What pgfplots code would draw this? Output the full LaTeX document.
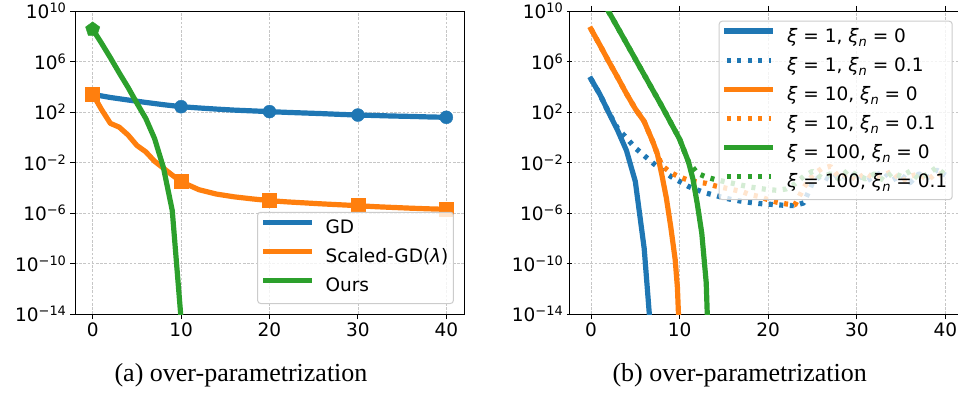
\documentclass[border=0pt]{standalone}
\usepackage{fontspec}
\setmainfont{DejaVu Sans}
\newfontfamily\capfont{Liberation Serif}
\usepackage{pgfplots}
\pgfplotsset{compat=1.18}

\definecolor{tblue}{HTML}{1F77B4}
\definecolor{torange}{HTML}{FF7F0E}
\definecolor{tgreen}{HTML}{2CA02C}

\newcommand{\xii}{\textit{ξ}}
\newcommand{\xin}{\textit{ξ}\raisebox{-0.22em}{\fontsize{13bp}{15bp}\selectfont\textit{n}}}

\tikzset{
  sline/.style={line width=5.2bp, line join=round, line cap=rect},
  dline/.style={line width=5.2bp, line join=round, line cap=butt, dash pattern=on 4bp off 6.5bp},
}
\pgfplotsset{
  legend image code/.code={\draw[#1] (0bp,6.7bp) -- (44bp,6.7bp);},
}
\pgfplotsset{
    scale only axis, width=389bp, height=303bp,
    ymin=1e-14, ymax=1e10,
    ytick={1e-14,1e-10,1e-6,1e-2,1e2,1e6,1e10},
    yticklabels={10\textsuperscript{−14},10\textsuperscript{−10},10\textsuperscript{−6},10\textsuperscript{−2},10\textsuperscript{2},10\textsuperscript{6},10\textsuperscript{10}},
    yminorticks=false,
    xtick={0,10,20,30,40},
    /pgf/number format/assume math mode=true,
    tick align=outside, xtick pos=left, ytick pos=left,
    major tick length=5bp, tick style={black, line width=1bp},
    grid=major, major grid style={gray!45, line width=0.8bp, dash pattern=on 2.6bp off 1.6bp},
    axis line style={black, line width=1bp},
    tick label style={font=\fontsize{18.5bp}{22bp}\selectfont},
    legend cell align=left,
    legend style={font=\fontsize{18.5bp}{22bp}\selectfont, draw=black!20, line width=1bp,
      rounded corners=3bp, fill=white, fill opacity=0.8, text opacity=1, draw opacity=1,
      inner xsep=5bp, inner ysep=7.3bp, row sep=10.5bp, column sep=13.7bp,
      nodes={inner sep=0bp, text height=14bp, text depth=4.5bp}},
}

\begin{document}
\begin{tikzpicture}
\path[use as bounding box] (0bp,0bp) rectangle (958bp,394bp);

% ---------------- (a) ----------------
\begin{axis}[ymode=log, at={(75bp,80bp)}, anchor=south west,
  xmin=-2, xmax=42, ymin=1e-14, ymax=1e10,
  legend style={at={(0.974,0.033)}, anchor=south east}]
\addplot[sline, color=tblue] coordinates {(0,2.51e3)(2,1.41e3)(4,8.91e2)(6,5.75e2)(8,3.80e2)(10,2.63e2)(12,2.09e2)(14,1.70e2)(16,1.41e2)(18,1.23e2)(20,1.07e2)(22,9.33e1)(24,8.32e1)(26,7.41e1)(28,6.46e1)(30,5.75e1)(32,5.25e1)(34,4.79e1)(36,4.47e1)(38,4.07e1)(40,3.80e1)};
\addlegendentry{GD}
\addplot[only marks, mark=*, mark size=6.5bp, color=tblue, line width=0.4bp, forget plot] coordinates {(0,2.51e3)(10,2.63e2)(20,1.07e2)(30,5.75e1)(40,3.80e1)};
\addplot[sline, color=torange] coordinates {(0,2.63e3)(1,1.58e2)(2,1.26e1)(3,6.31)(4,1.51)(5,2.24e-1)(6,7.08e-2)(7,1.26e-2)(8,3.55e-3)(9,1.00e-3)(10,3.02e-4)(12,7.08e-5)(14,3.16e-5)(16,1.91e-5)(18,1.32e-5)(20,9.55e-6)(22,7.59e-6)(24,6.31e-6)(26,5.25e-6)(28,4.47e-6)(30,3.80e-6)(32,3.16e-6)(34,2.75e-6)(36,2.40e-6)(38,2.14e-6)(40,1.95e-6)};
\addlegendentry{Scaled-GD(\textit{λ})}
\addplot[only marks, mark=square*, mark size=7bp, color=torange, line width=0.4bp, forget plot] coordinates {(0,2.63e3)(10,3.02e-4)(20,9.55e-6)(30,3.80e-6)(40,1.95e-6)};
\addplot[sline, color=tgreen] coordinates {(0,3.55e8)(1,2.82e7)(2,2.00e6)(3,1.26e5)(4,8.91e3)(5,5.01e2)(6,3.16e1)(7,7.94e-1)(8,3.98e-3)(9,1.58e-6)(9.95,1e-14)};
\addlegendentry{Ours}
\addplot[only marks, mark=pentagon*, mark size=7.5bp, color=tgreen, line width=0.4bp, forget plot] coordinates {(0,3.55e8)};
\end{axis}

% ---------------- (b) ----------------
\begin{axis}[ymode=log, at={(569.3bp,80bp)}, anchor=south west,
  xmin=-2.45, xmax=41.45, ymin=1e-14, ymax=1e10,
  axis x line=box, axis y line=left, axis line style={-},
  legend style={at={(0.9856,0.968)}, anchor=north east}]
\addplot[sline, color=tblue] coordinates {(0,4.07e4)(1,2.51e3)(2,8.91e1)(3,3.55)(4,8.91e-2)(5,3.16e-4)(6,1.58e-9)(6.58,1e-14)};
\addlegendentry{\xii{} = 1, \xin{} = 0}
\addplot[dline, color=tblue] coordinates {(0,4.07e4)(1,2.51e3)(2,8.91e1)(3,5.01)(4,8.91e-1)(5,1.41e-1)(6,3.55e-2)(7,8.91e-3)(8,2.51e-3)(9,7.94e-4)(10,3.16e-4)(11,1.26e-4)(12,6.61e-5)(13,3.80e-5)(14,2.51e-5)(15,1.58e-5)(16,1.12e-5)(17,8.51e-6)(18,6.76e-6)(19,5.62e-6)(20,5.01e-6)(21,4.47e-6)(22,3.98e-6)(23,3.80e-6)(24,6.31e-6)(25,2.51e-4)(26,1.00e-3)(27,3.98e-4)(28,1.26e-3)(29,5.01e-4)(30,1.58e-3)(31,3.16e-4)(32,7.94e-4)(33,2.00e-3)(34,3.98e-4)(35,1.00e-3)(36,2.51e-4)(37,1.26e-3)(38,6.31e-4)(39,2.51e-3)(40,1.00e-3)};
\addlegendentry{\xii{} = 1, \xin{} = 0.1}
\addplot[sline, color=torange] coordinates {(0,3.72e8)(1,2.00e7)(2,1.00e6)(3,5.62e4)(4,2.82e3)(5,1.78e2)(6,1.78e1)(7,3.98e-1)(7.5,4.47e-2)(8,1.00e-3)(8.5,1.58e-5)(9,7.94e-8)(9.5,2.00e-10)(9.75,1.26e-12)(9.87,1e-14)};
\addlegendentry{\xii{} = 10, \xin{} = 0}
\addplot[dline, color=torange] coordinates {(0,3.72e8)(1,2.00e7)(2,1.00e6)(3,5.62e4)(4,2.82e3)(5,1.78e2)(6,1.78e1)(7,3.98e-1)(7.5,4.47e-2)(8,5.62e-3)(9,1.58e-3)(10,7.08e-4)(11,3.98e-4)(12,2.82e-4)(13,2.24e-4)(14,1.41e-4)(15,1.00e-4)(16,7.08e-5)(17,5.01e-5)(18,2.82e-5)(19,2.00e-5)(20,1.12e-5)(21,7.08e-6)(22,5.25e-6)(23,4.27e-6)(24,1.00e-4)(25,1.00e-3)(26,3.16e-3)(27,5.01e-3)(28,6.31e-4)(29,1.26e-3)(30,3.98e-4)(31,1.58e-3)(32,5.01e-4)(33,1.00e-3)(34,2.00e-3)(35,3.16e-4)(36,7.94e-4)(37,1.26e-3)(38,3.98e-4)(39,1.58e-3)(40,6.31e-4)};
\addlegendentry{\xii{} = 10, \xin{} = 0.1}
\addplot[sline, color=tgreen] coordinates {(1.95,1e10)(3,5.01e8)(4,2.82e7)(5,1.58e6)(6,8.91e4)(7,5.01e3)(8,2.82e2)(9,1.41e1)(10,7.08e-1)(11,1.12e-2)(11.5,5.01e-4)(12,5.01e-6)(12.5,2.51e-8)(13,3.16e-12)(13.12,1e-14)};
\addlegendentry{\xii{} = 100, \xin{} = 0}
\addplot[dline, color=tgreen] coordinates {(1.95,1e10)(3,5.01e8)(4,2.82e7)(5,1.58e6)(6,8.91e4)(7,5.01e3)(8,2.82e2)(9,1.41e1)(10,7.08e-1)(11,1.12e-2)(12,1.41e-3)(13,7.08e-4)(14,4.47e-4)(15,3.16e-4)(16,2.24e-4)(17,1.58e-4)(18,1.12e-4)(19,8.91e-5)(20,7.08e-5)(21,6.31e-5)(22,7.94e-5)(23,2.00e-4)(24,7.94e-4)(25,2.00e-3)(26,6.31e-4)(27,1.26e-3)(28,5.01e-4)(29,2.51e-3)(30,1.00e-3)(31,5.01e-4)(32,1.26e-3)(33,3.98e-4)(34,1.58e-3)(35,7.94e-4)(36,2.00e-3)(37,5.01e-4)(38,1.26e-3)(39,3.98e-3)(40,1.00e-3)};
\addlegendentry{\xii{} = 100, \xin{} = 0.1}
\end{axis}

\node[anchor=base, font=\capfont\fontsize{26bp}{30bp}\selectfont] at (241bp,12.3bp) {(a) over-parametrization};
\node[anchor=base, font=\capfont\fontsize{26bp}{30bp}\selectfont] at (739.7bp,12.3bp) {(b) over-parametrization};
\end{tikzpicture}
\end{document}
